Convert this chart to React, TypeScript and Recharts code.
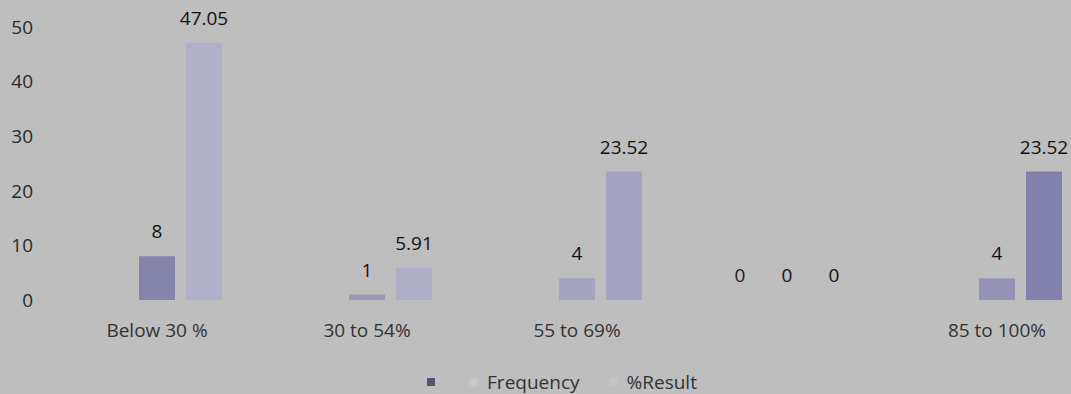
import React from 'react';
import { BarChart, Bar, XAxis, YAxis, LabelList, Legend, Cell } from 'recharts';

const categories = ['Below 30 %', '30 to 54%', '55 to 69%', '', '85 to 100%'];
const blankSeries = [null, null, null, 0, null];
const frequency = [8, 1, 4, 0, 4];
const percentResult = [47.05, 5.91, 23.52, 0, 23.52];
const yTicks = [0, 10, 20, 30, 40, 50];

const data = categories.map((category, i) => ({
  category,
  blank: blankSeries[i],
  frequency: frequency[i],
  result: percentResult[i],
}));

const BG = '#bebebe';
const FONT = '"Open Sans", sans-serif';
const freqColors = ['#8584aa', '#9a99b8', '#a5a5c0', '#8584aa', '#9493b6'];
const resultColors = ['#b0b0c8', '#aeaec6', '#a4a4c2', '#b0b0c8', '#8281ac'];

const legendItems = [
  { label: '', color: '#55556e' },
  { label: 'Frequency', color: '#c6c6cc' },
  { label: '%Result', color: '#c4c4c8' },
];

function ChartLegend() {
  return (
    <div
      style={{
        display: 'flex',
        justifyContent: 'center',
        alignItems: 'center',
        fontFamily: FONT,
        fontSize: 19,
        color: '#333',
        paddingLeft: 44,
      }}
    >
      {legendItems.map((item, i) => (
        <div key={i} style={{ display: 'flex', alignItems: 'center', marginRight: i === 0 ? 26 : 30 }}>
          <span style={{ width: 8, height: 8, background: item.color, marginRight: 9, display: 'inline-block' }} />
          <span>{item.label}</span>
        </div>
      ))}
    </div>
  );
}

export default function App() {
  return (
    <div
      style={{
        position: 'fixed',
        left: 0,
        top: 0,
        width: 1071,
        height: 394,
        overflow: 'hidden',
        background: BG,
      }}
    >
      <BarChart
        width={1110}
        height={394}
        data={data}
        margin={{ top: 27, right: 8, left: 0, bottom: 0 }}
        barCategoryGap={40}
        barGap={11}
      >
        <XAxis
          dataKey="category"
          axisLine={false}
          tickLine={false}
          tickSize={0}
          tickMargin={24}
          height={94}
          interval={0}
          tick={{ fill: '#333', fontSize: 19, fontFamily: FONT }}
        />
        <YAxis
          width={52}
          domain={[0, 50]}
          ticks={yTicks}
          axisLine={false}
          tickLine={false}
          tickSize={0}
          tickMargin={19}
          tick={{ fill: '#2a2a2a', fontSize: 19, fontFamily: FONT }}
        />
        <Legend
          verticalAlign="middle"
          align="center"
          wrapperStyle={{ top: 369, left: 0, width: 1110 }}
          content={() => <ChartLegend />}
        />
        <Bar dataKey="blank" name="" fill="#55556e" minPointSize={0.01} isAnimationActive={false}>
          <LabelList dataKey="blank" position="top" offset={18} fill="#222" fontSize={19} fontFamily={FONT} />
        </Bar>
        <Bar dataKey="frequency" name="Frequency" fill="#8584aa" minPointSize={0.01} isAnimationActive={false}>
          {data.map((_, i) => (
            <Cell key={i} fill={freqColors[i]} />
          ))}
          <LabelList dataKey="frequency" position="top" offset={18} fill="#111" fontSize={19} fontFamily={FONT} />
        </Bar>
        <Bar dataKey="result" name="%Result" fill="#b0b0c8" minPointSize={0.01} isAnimationActive={false}>
          {data.map((_, i) => (
            <Cell key={i} fill={resultColors[i]} />
          ))}
          <LabelList dataKey="result" position="top" offset={18} fill="#111" fontSize={19} fontFamily={FONT} />
        </Bar>
      </BarChart>
    </div>
  );
}
